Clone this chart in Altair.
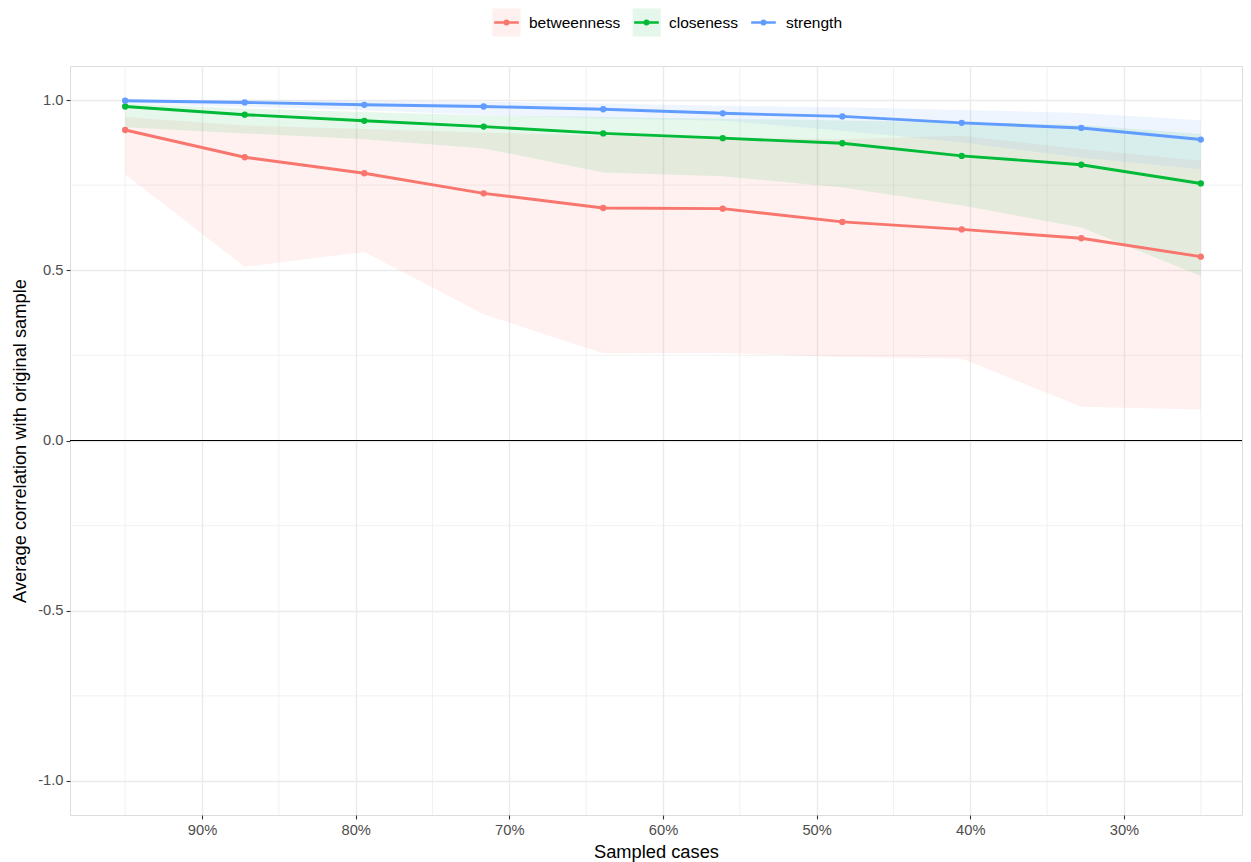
import altair as alt
import pandas as pd

# ---------------- data ----------------
measures = ["betweenness", "closeness", "strength"]
colors = ["#F8766D", "#00BA38", "#619CFF"]

sampled = [0.95, 0.8722, 0.7944, 0.7167, 0.6389, 0.5611, 0.4833, 0.4056, 0.3278, 0.25]

betw_mean = [0.912, 0.832, 0.785, 0.726, 0.683, 0.681, 0.642, 0.620, 0.594, 0.540]
betw_low = [0.782, 0.510, 0.554, 0.371, 0.256, 0.257, 0.245, 0.241, 0.099, 0.091]
betw_high = [0.950, 0.925, 0.915, 0.905, 0.895, 0.890, 0.885, 0.895, 0.856, 0.822]

clos_mean = [0.981, 0.957, 0.939, 0.922, 0.902, 0.888, 0.873, 0.836, 0.810, 0.755]
clos_low = [0.920, 0.902, 0.885, 0.858, 0.787, 0.776, 0.743, 0.690, 0.626, 0.483]
clos_high = [0.990, 0.975, 0.965, 0.955, 0.950, 0.945, 0.940, 0.935, 0.927, 0.900]

str_mean = [0.998, 0.993, 0.986, 0.981, 0.973, 0.961, 0.952, 0.933, 0.918, 0.884]
str_low = [0.990, 0.980, 0.970, 0.956, 0.946, 0.939, 0.910, 0.876, 0.831, 0.797]
str_high = [1.000, 1.000, 0.998, 0.995, 0.990, 0.983, 0.979, 0.971, 0.962, 0.941]

x_major = [0.3, 0.4, 0.5, 0.6, 0.7, 0.8, 0.9]
x_minor = [0.25, 0.35, 0.45, 0.55, 0.65, 0.75, 0.85, 0.95]
y_major = [-1.0, -0.5, 0.0, 0.5, 1.0]
y_minor = [-0.75, -0.25, 0.25, 0.75]
zero_line = [0.0]

# ---------------- table ----------------
series = [
    ("betweenness", betw_mean, betw_low, betw_high),
    ("closeness", clos_mean, clos_low, clos_high),
    ("strength", str_mean, str_low, str_high),
]
rows = []
for name, mean, lo, hi in series:
    for s, m, l, h in zip(sampled, mean, lo, hi):
        rows.append({"measure": name, "band": name, "sampled": s,
                     "mean": m, "lower": l, "upper": h})
df = pd.DataFrame(rows)
df_xminor = pd.DataFrame({"v": x_minor})
df_yminor = pd.DataFrame({"v": y_minor})
df_zero = pd.DataFrame({"v": zero_line})

FONT = "Liberation Sans"

xscale = alt.Scale(domain=[0.2232, 0.9859], reverse=True, nice=False, zero=False)
yscale = alt.Scale(domain=[-1.1, 1.1], nice=False, zero=False)

xaxis = alt.Axis(values=x_major, format=".0%", title="Sampled cases",
                 grid=True, gridColor="#EBEBEB", gridWidth=1.4,
                 domain=False, tickColor="#333333", tickSize=4, tickWidth=1.1,
                 labelColor="#4D4D4D", labelFontSize=14.7, labelPadding=3,
                 labelFont=FONT, titleFont=FONT,
                 titleFontSize=18.3, titleColor="black", titleFontWeight="normal",
                 titlePadding=7)
yaxis = alt.Axis(values=y_major,
                 labelExpr="replace(format(datum.value, '.1f'), '\u2212', '-')",
                 title="Average correlation with original sample",
                 grid=True, gridColor="#EBEBEB", gridWidth=1.4,
                 domain=False, tickColor="#333333", tickSize=4, tickWidth=1.1,
                 labelColor="#4D4D4D", labelFontSize=14.7, labelPadding=3,
                 labelFont=FONT, titleFont=FONT,
                 titleFontSize=18.3, titleColor="black", titleFontWeight="normal",
                 titlePadding=8)

LEG_Y = -59
LBL_SIZE = 15.5
stroke_legend = alt.Legend(
    title=None, orient="none", direction="horizontal",
    legendX=421, legendY=LEG_Y,
    symbolType="M-0.88,0H0.88M0.12,0A0.12,0.12,0,1,1,-0.12,0A0.12,0.12,0,1,1,0.12,0",
    symbolSize=784, symbolStrokeWidth=2.6,
    labelFontSize=LBL_SIZE, labelFont=FONT, labelColor="black",
    labelOffset=7, columnPadding=7, padding=0,
)


def key_legend(x, color):
    # pale square behind each line key (ggplot ribbon key), no label
    return alt.Legend(title=None, orient="none", direction="horizontal",
                      legendX=x, legendY=LEG_Y, symbolType="square",
                      symbolSize=784, symbolFillColor=color, symbolOpacity=0.1,
                      symbolStrokeColor="transparent", symbolStrokeWidth=2.6,
                      labelExpr="''", labelOffset=0, padding=0)


fill_enc = alt.Fill("band:N", scale=alt.Scale(domain=measures, range=colors),
                    legend=None)
stroke_enc = alt.Stroke("measure:N", scale=alt.Scale(range=colors),
                        legend=stroke_legend)

minor_x = alt.Chart(df_xminor).mark_rule(color="#EBEBEB", strokeWidth=0.7).encode(
    x=alt.X("v:Q", scale=xscale, axis=xaxis))
minor_y = alt.Chart(df_yminor).mark_rule(color="#EBEBEB", strokeWidth=0.7).encode(
    y=alt.Y("v:Q", scale=yscale, axis=yaxis))

areas = alt.Chart(df).mark_area(opacity=0.1).encode(
    x=alt.X("sampled:Q", scale=xscale, axis=xaxis),
    y=alt.Y("lower:Q", scale=yscale, axis=yaxis),
    y2="upper:Q",
    fill=fill_enc,
    detail="band:N",
)

zero = alt.Chart(df_zero).mark_rule(color="black", strokeWidth=1.2).encode(
    y=alt.Y("v:Q", scale=yscale, axis=yaxis))

lines = alt.Chart(df).mark_line(strokeWidth=2.9).encode(
    x=alt.X("sampled:Q", scale=xscale, axis=xaxis),
    y=alt.Y("mean:Q", scale=yscale, axis=yaxis),
    stroke=stroke_enc,
    detail="measure:N",
)

points = alt.Chart(df).mark_point(filled=True, shape="circle", size=40, opacity=1).encode(
    x=alt.X("sampled:Q", scale=xscale, axis=xaxis),
    y=alt.Y("mean:Q", scale=yscale, axis=yaxis),
    fill=fill_enc,
)

# invisible marks that only carry the three key-background legends
key_b = alt.Chart(pd.DataFrame({"k1": [measures[0]]})).mark_point(
    filled=True, opacity=0, color=colors[0]).encode(
    shape=alt.Shape("k1:N", scale=alt.Scale(range=["square"]),
                    legend=key_legend(421, colors[0])))
key_c = alt.Chart(pd.DataFrame({"k2": [measures[1]]})).mark_point(
    filled=True, opacity=0, color=colors[1]).encode(
    strokeDash=alt.StrokeDash("k2:N", scale=alt.Scale(range=[[1, 0]]),
                              legend=key_legend(561.2, colors[1])))
key_s = alt.Chart(pd.DataFrame({"k3": [measures[2]]})).mark_point(
    filled=True, opacity=0, color=colors[2]).encode(
    size=alt.Size("k3:N", scale=alt.Scale(range=[784]),
                  legend=key_legend(678.7, colors[2])))

chart = alt.layer(minor_x, minor_y, areas, zero, lines, points,
                  key_b, key_c, key_s).properties(
    width=1172, height=749,
    autosize=alt.AutoSizeParams(type="none"),
    padding={"left": 62, "top": 58, "right": 1, "bottom": 55},
).configure_view(
    stroke="#333333", strokeWidth=1.1
).configure(font=FONT, background="white")

chart.save("out.html", embed_options={"renderer": "svg", "actions": False})
